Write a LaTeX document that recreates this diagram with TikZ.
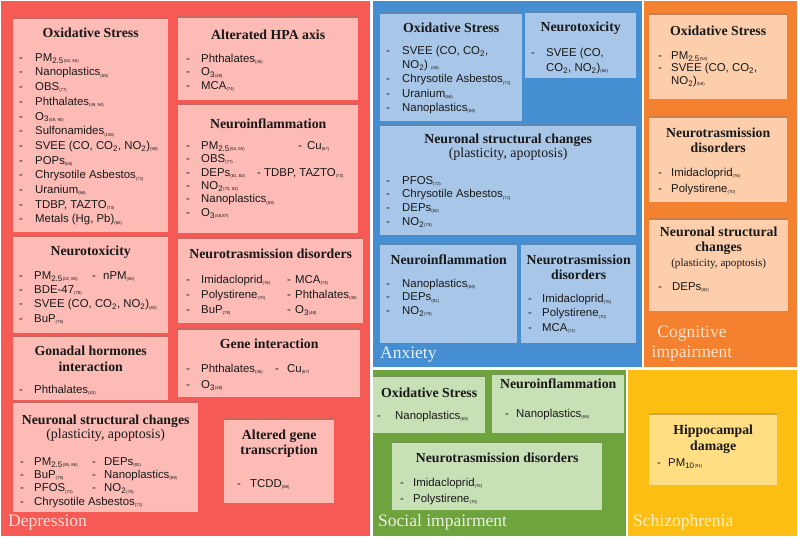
\documentclass[tikz,border=0pt]{standalone}
\usepackage{fontspec}
\setmainfont{Liberation Serif}
\setsansfont{Liberation Sans}
\usetikzlibrary{positioning,shadows}

\definecolor{deppanel}{RGB}{245,90,84}
\definecolor{depbox}{RGB}{253,187,182}
\definecolor{anxpanel}{RGB}{70,142,210}
\definecolor{anxbox}{RGB}{168,198,232}
\definecolor{cogpanel}{RGB}{244,129,48}
\definecolor{cogbox}{RGB}{252,206,172}
\definecolor{socpanel}{RGB}{110,163,62}
\definecolor{socbox}{RGB}{200,224,182}
\definecolor{schpanel}{RGB}{253,190,20}
\definecolor{schbox}{RGB}{255,222,132}
\definecolor{inktext}{RGB}{25,25,25}

\newcommand\rf[1]{\raisebox{-1.3pt}{\fontsize{4.3}{5}\selectfont(#1)}}
\newcommand\sbs[1]{\textsubscript{#1}}
\newcommand\itm[1][15pt]{\strut\makebox[#1][l]{-}}
\newcommand\itmgap[1][15pt]{\strut\hspace*{#1}}

\begin{document}
\begin{tikzpicture}[x=1pt,y=-1pt,
  panel/.style={rectangle,inner sep=0,anchor=north west},
  box/.style={rectangle,inner sep=0,anchor=north west,
    drop shadow={shadow xshift=0pt,shadow yshift=2.5pt,opacity=.4}},
  head/.style={font=\fontsize{13.8}{15.5}\selectfont\bfseries,text=inktext,align=center,inner sep=0},
  subhead/.style={font=\fontsize{13.9}{15}\selectfont,text=inktext,inner sep=0},
  items/.style={font=\sffamily\fontsize{11.4}{#1}\selectfont,text=inktext,align=left,inner sep=0,anchor=north west},
  items/.default=14pt,
  plabel/.style={font=\fontsize{17.5}{20}\selectfont,inner sep=0,anchor=west}]

  \fill[white] (0,0) rectangle (798,538);
  \useasboundingbox (0,0) rectangle (798,538);

  % panels
  \node[panel,fill=deppanel,minimum width=369pt,minimum height=535pt] (dep) at (1,1) {};
  \node[panel,fill=anxpanel,minimum width=269pt,minimum height=366pt] (anx) at (373,1) {};
  \node[panel,fill=cogpanel,minimum width=153pt,minimum height=366pt] (cog) at (644,1) {};
  \node[panel,fill=socpanel,minimum width=253pt,minimum height=166pt] (soc) at (373,370) {};
  \node[panel,fill=schpanel,minimum width=169pt,minimum height=166pt] (sch) at (628,370) {};

  % Depression
  \node[box,fill=depbox,minimum width=155pt,minimum height=213pt] (dox) at (13,19) {};
  \node[head] (dox-h) at ([yshift=-14pt]dox.north) {Oxidative Stress};
  \node[items=14.7pt,below right=31.8pt and 6pt of dox.north west] (dox-l) {%
    \itm[16pt]PM\sbs{2.5}\rf{52, 55}\\
    \itm[16pt]Nanoplastics\rf{69}\\
    \itm[16pt]OBS\rf{77}\\
    \itm[16pt]Phthalates\rf{49, 94}\\
    \itm[16pt]O\sbs{3}\rf{49, 90}\\
    \itm[16pt]Sulfonamides\rf{108}\\
    \itm[16pt]SVEE (CO, CO\sbs{2}, NO\sbs{2})\rf{58}\\
    \itm[16pt]POPs\rf{65}\\
    \itm[16pt]Chrysotile Asbestos\rf{71}\\
    \itm[16pt]Uranium\rf{66}\\
    \itm[16pt]TDBP, TAZTO\rf{73}\\
    \itm[16pt]Metals (Hg, Pb)\rf{65}};

  \node[box,fill=depbox,minimum width=180pt,minimum height=82pt] (dhpa) at (178,18) {};
  \node[head] (dhpa-h) at ([yshift=-17pt]dhpa.north) {Alterated HPA axis};
  \node[items=13.5pt,below right=34.6pt and 8pt of dhpa.north west] (dhpa-l) {%
    \itm Phthalates\rf{46}\\
    \itm O\sbs{3}\rf{48}\\
    \itm MCA\rf{74}};

  \node[box,fill=depbox,minimum width=180pt,minimum height=128pt] (dinf) at (178,105) {};
  \node[head] (dinf-h) at ([yshift=-19pt]dinf.north) {Neuroinflammation};
  \node[items=13.4pt,below right=34.7pt and 8pt of dinf.north west] (dinf-l) {%
    \itm\makebox[97pt][l]{PM\sbs{2.5}\rf{54, 55}}\itm[9pt]Cu\rf{67}\\
    \itm OBS\rf{77}\\
    \itm\makebox[56pt][l]{DEPs\rf{81, 82}}\itm[7pt]TDBP, TAZTO\rf{73}\\
    \itm NO\sbs{2}\rf{75, 53}\\
    \itm Nanoplastics\rf{69}\\
    \itm O\sbs{3}\rf{48,87}};

  \node[box,fill=depbox,minimum width=155pt,minimum height=96pt] (dntx) at (13,237) {};
  \node[head] (dntx-h) at ([yshift=-15pt]dntx.north) {Neurotoxicity};
  \node[items=14.3pt,below right=32.1pt and 6pt of dntx.north west] (dntx-l) {%
    \itm\makebox[58pt][l]{PM\sbs{2.5}\rf{52, 80}}\itm[11pt]nPM\rf{56}\\
    \itm BDE-47\rf{78}\\
    \itm SVEE (CO, CO\sbs{2}, NO\sbs{2})\rf{60}\\
    \itm BuP\rf{79}};

  \node[box,fill=depbox,minimum width=155pt,minimum height=63pt] (dgon) at (13,337) {};
  \node[head] (dgon-h) at ([yshift=-22pt]dgon.north) {Gonadal hormones\\interaction};
  \node[items,below right=46.3pt and 6pt of dgon.north west] (dgon-l) {%
    \itm Phthalates\rf{63}};

  \node[box,fill=depbox,minimum width=185pt,minimum height=109pt] (dnsc) at (13,403) {};
  \node[head] (dnsc-h) at ([yshift=-18pt]dnsc.north) {Neuronal structural changes};
  \node[subhead] (dnsc-s) at ([yshift=-32pt]dnsc.north) {(plasticity, apoptosis)};
  \node[items=13.3pt,below right=52.8pt and 7pt of dnsc.north west] (dnsc-l) {%
    \itm[14pt]\makebox[58pt][l]{PM\sbs{2.5}\rf{85, 86}}\itm[12pt]DEPs\rf{82}\\
    \itm[14pt]\makebox[58pt][l]{BuP\rf{79}}\itm[12pt]Nanoplastics\rf{69}\\
    \itm[14pt]\makebox[58pt][l]{PFOS\rf{72}}\itm[12pt]NO\sbs{2}\rf{75}\\
    \itm[14pt]Chrysotile Asbestos\rf{71}};

  \node[box,fill=depbox,minimum width=110pt,minimum height=83pt] (dagt) at (224,420) {};
  \node[head] (dagt-h) at ([yshift=-23.5pt]dagt.north) {Altered gene\\transcription};
  \node[items,below right=57.3pt and 13pt of dagt.north west] (dagt-l) {%
    \itm[13pt]TCDD\rf{68}};

  \node[box,fill=depbox,minimum width=185pt,minimum height=84pt] (dntr) at (178,239) {};
  \node[head] (dntr-h) at ([yshift=-15pt]dntr.north) {Neurotrasmission disorders};
  \node[items=15pt,below right=33.6pt and 8pt of dntr.north west] (dntr-l) {%
    \itm\makebox[86pt][l]{Imidacloprid\rf{76}}\itm[8pt]MCA\rf{74}\\
    \itm\makebox[86pt][l]{Polystirene\rf{70}}\itm[8pt]Phthalates\rf{49}\\
    \itm\makebox[86pt][l]{BuP\rf{79}}\itm[8pt]O\sbs{3}\rf{48}};

  \node[box,fill=depbox,minimum width=182pt,minimum height=67pt] (dgen) at (178,330) {};
  \node[head] (dgen-h) at ([yshift=-14pt]dgen.north) {Gene interaction};
  \node[items=16pt,below right=30.9pt and 8pt of dgen.north west] (dgen-l) {%
    \itm\makebox[74pt][l]{Phthalates\rf{46}}\itm[12pt]Cu\rf{67}\\
    \itm O\sbs{3}\rf{48}};

  \node[plabel,text={rgb,255:red,255;green,222;blue,218}] (dep-t) at (8,523) {Depression};

  % Anxiety
  \node[box,fill=anxbox,minimum width=142pt,minimum height=107pt] (aox) at (380,14) {};
  \node[head] (aox-h) at ([yshift=-14pt]aox.north) {Oxidative Stress};
  \node[items=14.3pt,below right=30.1pt and 6pt of aox.north west] (aox-l) {%
    \itm[16pt]SVEE (CO, CO\sbs{2},\\
    \itmgap[16pt]NO\sbs{2}) \rf{58}\\
    \itm[16pt]Chrysotile Asbestos\rf{71}\\
    \itm[16pt]Uranium\rf{66}\\
    \itm[16pt]Nanoplastics\rf{69}};

  \node[box,fill=anxbox,minimum width=111pt,minimum height=65pt] (antx) at (525,13) {};
  \node[head] (antx-h) at ([yshift=-15pt]antx.north) {Neurotoxicity};
  \node[items=15pt,below right=32.6pt and 6pt of antx.north west] (antx-l) {%
    \itm SVEE (CO,\\
    \itmgap CO\sbs{2}, NO\sbs{2})\rf{60}};

  \node[box,fill=anxbox,minimum width=256pt,minimum height=109pt] (ansc) at (380,126) {};
  \node[head] (ansc-h) at ([yshift=-14pt]ansc.north) {Neuronal structural changes};
  \node[subhead] (ansc-s) at ([yshift=-28pt]ansc.north) {(plasticity, apoptosis)};
  \node[items=13.7pt,below right=48.5pt and 6pt of ansc.north west] (ansc-l) {%
    \itm[16pt]PFOS\rf{72}\\
    \itm[16pt]Chrysotile Asbestos\rf{71}\\
    \itm[16pt]DEPs\rf{82}\\
    \itm[16pt]NO\sbs{2}\rf{75}};

  \node[box,fill=anxbox,minimum width=137pt,minimum height=98pt] (ainf) at (380,245) {};
  \node[head] (ainf-h) at ([yshift=-15pt]ainf.north) {Neuroinflammation};
  \node[items=13.5pt,below right=32.65pt and 6pt of ainf.north west] (ainf-l) {%
    \itm[16pt]Nanoplastics\rf{69}\\
    \itm[16pt]DEPs\rf{81}\\
    \itm[16pt]NO\sbs{2}\rf{75}};

  \node[box,fill=anxbox,minimum width=115pt,minimum height=98pt] (antr) at (521,245) {};
  \node[head] (antr-h) at ([yshift=-22.5pt]antr.north) {Neurotrasmission\\disorders};
  \node[items=14.5pt,below right=47pt and 7pt of antr.north west] (antr-l) {%
    \itm[14pt]Imidacloprid\rf{76}\\
    \itm[14pt]Polystirene\rf{70}\\
    \itm[14pt]MCA\rf{74}};

  \node[plabel,text={rgb,255:red,232;green,240;blue,250}] (anx-t) at (380,355) {Anxiety};

  % Cognitive impairment
  \node[box,fill=cogbox,minimum width=138pt,minimum height=84pt] (cox) at (649,15) {};
  \node[head] (cox-h) at ([yshift=-16pt]cox.north) {Oxidative Stress};
  \node[items=12.5pt,below right=35.4pt and 9pt of cox.north west] (cox-l) {%
    \itm[13pt]PM\sbs{2.5}\rf{53}\\
    \itm[13pt]SVEE (CO, CO\sbs{2},\\
    \itmgap[13pt]NO\sbs{2})\rf{58}};

  \node[box,fill=cogbox,minimum width=138pt,minimum height=84pt] (cntr) at (649,118) {};
  \node[head] (cntr-h) at ([yshift=-22.5pt]cntr.north) {Neurotrasmission\\disorders};
  \node[items=16pt,below right=46.9pt and 9pt of cntr.north west] (cntr-l) {%
    \itm[13pt]Imidacloprid\rf{76}\\
    \itm[13pt]Polystirene\rf{70}};

  \node[box,fill=cogbox,minimum width=139pt,minimum height=91pt] (cnsc) at (649,220) {};
  \node[head] (cnsc-h) at ([yshift=-20.5pt]cnsc.north) {Neuronal structural\\changes};
  \node[subhead,font=\fontsize{11.1}{13}\selectfont] (cnsc-s) at ([yshift=-44pt]cnsc.north) {(plasticity, apoptosis)};
  \node[items,below right=60.3pt and 9pt of cnsc.north west] (cnsc-l) {%
    \itm[14pt]DEPs\rf{82}};

  \node[plabel,anchor=center,align=center,text={rgb,255:red,255;green,228;blue,205}] (cog-t) at (692,344) {Cognitive\\impairment};

  % Social impairment
  \node[box,fill=socbox,minimum width=112pt,minimum height=56pt] (sox) at (373,377) {};
  \node[head] (sox-h) at ([yshift=-16pt]sox.north) {Oxidative Stress};
  \node[items,below right=32.3pt and 4pt of sox.north west] (sox-l) {%
    \itm[18pt]Nanoplastics\rf{69}};

  \node[box,fill=socbox,minimum width=132pt,minimum height=58pt] (sinf) at (492,375) {};
  \node[head] (sinf-h) at ([yshift=-9pt]sinf.north) {Neuroinflammation};
  \node[items,below right=32.3pt and 13pt of sinf.north west] (sinf-l) {%
    \itm[11pt]Nanoplastics\rf{69}};

  \node[box,fill=socbox,minimum width=210pt,minimum height=67pt] (sntr) at (392,443) {};
  \node[head] (sntr-h) at ([yshift=-15pt]sntr.north) {Neurotrasmission disorders};
  \node[items=16pt,below right=31.9pt and 8pt of sntr.north west] (sntr-l) {%
    \itm[13pt]Imidacloprid\rf{76}\\
    \itm[13pt]Polystirene\rf{70}};

  \node[plabel,text={rgb,255:red,232;green,242;blue,222}] (soc-t) at (378,522) {Social impairment};

  % Schizophrenia
  \node[box,fill=schbox,minimum width=128pt,minimum height=70pt] (zhip) at (649,415) {};
  \node[head] (zhip-h) at ([yshift=-24pt]zhip.north) {Hippocampal\\damage};
  \node[items,below right=41.3pt and 8pt of zhip.north west] (zhip-l) {%
    \itm[11pt]PM\sbs{10}\rf{91}};

  \node[plabel,text={rgb,255:red,255;green,240;blue,195}] (sch-t) at (633,522) {Schizophrenia};
\end{tikzpicture}
\end{document}
